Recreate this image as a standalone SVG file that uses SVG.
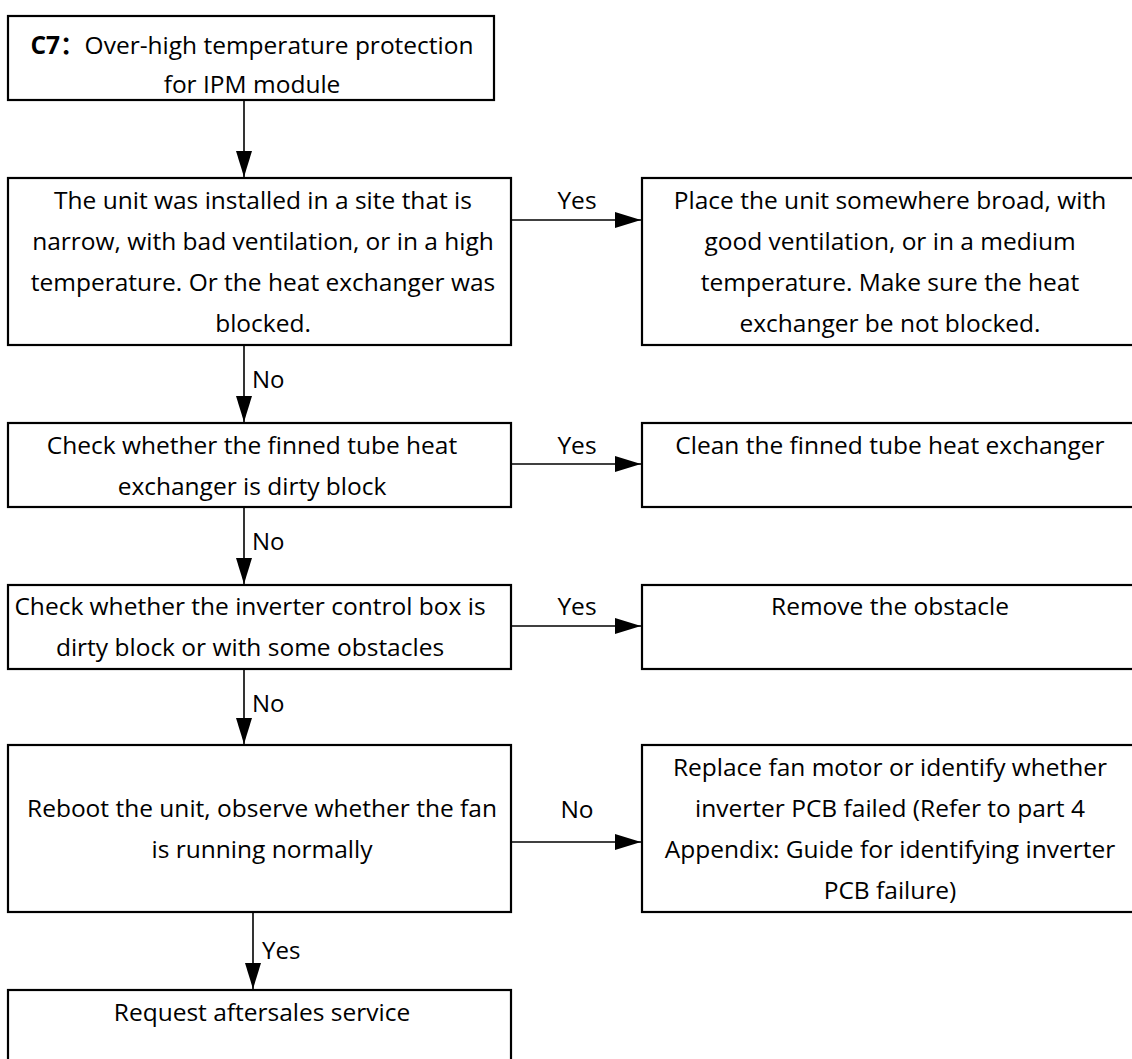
<svg xmlns="http://www.w3.org/2000/svg" width="1132" height="1059" viewBox="0 0 1132 1059">
<style>
.box{fill:#fff;stroke:#000;stroke-width:2.2}
.t{font-family:"Open Sans","Noto Sans CJK SC",sans-serif;font-size:24.5px;fill:#000;text-anchor:middle}
.l{font-family:"Open Sans",sans-serif;font-size:24px;fill:#000}
.c{stroke:#000;stroke-width:1.6;fill:none}
</style>
<defs>
<marker id="ah" markerUnits="userSpaceOnUse" markerWidth="26" markerHeight="16" viewBox="0 0 26 16" refX="26" refY="8" orient="auto">
<path d="M0,0 L26,8 L0,16 Z" fill="#000"/>
</marker>
</defs>
<rect width="1132" height="1059" fill="#fff"/>
<g id="connectors">
<line class="c" x1="244" y1="100" x2="244" y2="177" marker-end="url(#ah)"/>
<line class="c" x1="244" y1="345" x2="244" y2="422" marker-end="url(#ah)"/>
<line class="c" x1="244" y1="507" x2="244" y2="584" marker-end="url(#ah)"/>
<line class="c" x1="244" y1="669" x2="244" y2="744" marker-end="url(#ah)"/>
<line class="c" x1="253" y1="912" x2="253" y2="989" marker-end="url(#ah)"/>
<line class="c" x1="511" y1="220" x2="641" y2="220" marker-end="url(#ah)"/>
<line class="c" x1="511" y1="464" x2="641" y2="464" marker-end="url(#ah)"/>
<line class="c" x1="511" y1="626" x2="641" y2="626" marker-end="url(#ah)"/>
<line class="c" x1="511" y1="842" x2="641" y2="842" marker-end="url(#ah)"/>
<text class="l" x="252" y="388">No</text>
<text class="l" x="252" y="550">No</text>
<text class="l" x="252" y="712">No</text>
<text class="l" x="262" y="959">Yes</text>
<text class="t" x="577" y="209">Yes</text>
<text class="t" x="577" y="454">Yes</text>
<text class="t" x="577" y="615">Yes</text>
<text class="t" x="577" y="818">No</text>
</g>
<g id="n1">
<rect class="box" x="8" y="16" width="486" height="84"/>
<text class="t" x="252" y="54"><tspan font-weight="bold">C7：</tspan>Over-high temperature protection</text>
<text class="t" x="252" y="93">for IPM module</text>
</g>
<g id="n2">
<rect class="box" x="8" y="178" width="503" height="167"/>
<text class="t" x="263" y="209">The unit was installed in a site that is</text>
<text class="t" x="263" y="250">narrow, with bad ventilation, or in a high</text>
<text class="t" x="263" y="291">temperature. Or the heat exchanger was</text>
<text class="t" x="263" y="332">blocked.</text>
</g>
<g id="n2y">
<rect class="box" x="642" y="178" width="500" height="167"/>
<text class="t" x="890" y="209">Place the unit somewhere broad, with</text>
<text class="t" x="890" y="250">good ventilation, or in a medium</text>
<text class="t" x="890" y="291">temperature. Make sure the heat</text>
<text class="t" x="890" y="332">exchanger be not blocked.</text>
</g>
<g id="n3">
<rect class="box" x="8" y="423" width="503" height="84"/>
<text class="t" x="252" y="454">Check whether the finned tube heat</text>
<text class="t" x="252" y="495">exchanger is dirty block</text>
</g>
<g id="n3y">
<rect class="box" x="642" y="423" width="500" height="84"/>
<text class="t" x="890" y="454">Clean the finned tube heat exchanger</text>
</g>
<g id="n4">
<rect class="box" x="8" y="585" width="503" height="84"/>
<text class="t" x="250" y="615">Check whether the inverter control box is</text>
<text class="t" x="250" y="656">dirty block or with some obstacles</text>
</g>
<g id="n4y">
<rect class="box" x="642" y="585" width="500" height="84"/>
<text class="t" x="890" y="615">Remove the obstacle</text>
</g>
<g id="n5">
<rect class="box" x="8" y="745" width="503" height="167"/>
<text class="t" x="262" y="817">Reboot the unit, observe whether the fan</text>
<text class="t" x="262" y="858">is running normally</text>
</g>
<g id="n5n">
<rect class="box" x="642" y="745" width="500" height="167"/>
<text class="t" x="890" y="776">Replace fan motor or identify whether</text>
<text class="t" x="890" y="817">inverter PCB failed (Refer to part 4</text>
<text class="t" x="890" y="858">Appendix: Guide for identifying inverter</text>
<text class="t" x="890" y="899">PCB failure)</text>
</g>
<g id="n6">
<rect class="box" x="8" y="990" width="503" height="90"/>
<text class="t" x="262" y="1021">Request aftersales service</text>
</g>
</svg>
